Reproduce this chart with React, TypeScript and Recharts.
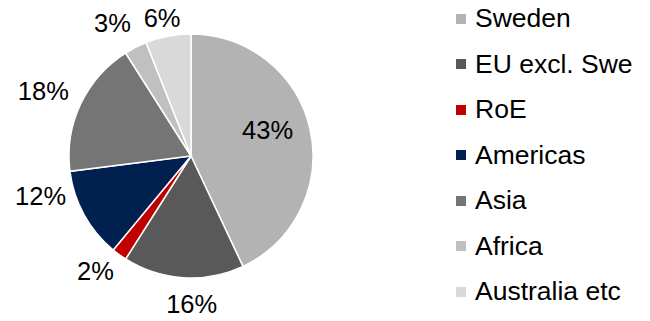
import React from "react";
import { Cell, Pie, PieChart, PieLabelRenderProps } from "recharts";

const REGIONS = ["Sweden", "EU excl. Swe", "RoE", "Americas", "Asia", "Africa", "Australia etc"];
const SHARES = [43, 16, 2, 12, 18, 3, 6];
const COLORS = ["#b3b3b3", "#595959", "#c00000", "#002050", "#757575", "#c0c0c0", "#d9d9d9"];

const data = REGIONS.map((name, i) => ({ name, value: SHARES[i] }));

const FONT = "'Liberation Sans', Arial, sans-serif";
const LABEL_SIZE = 25.5;
const LEGEND_SIZE = 26.5;
const RADIAN = Math.PI / 180;

// label placement tweaks, excel puts them a bit off the mid angle
const LABEL_TWEAK: Record<string, { r: number; dx: number; dy: number }> = {
  Sweden: { r: 0.66, dx: -2, dy: -8 },
  "EU excl. Swe": { r: 1.22, dx: 10, dy: -1 },
  RoE: { r: 1.22, dx: -8, dy: -5 },
  Americas: { r: 1.22, dx: -20, dy: -32 },
  Asia: { r: 1.22, dx: -13, dy: -2 },
  Africa: { r: 1.22, dx: -11, dy: 0 },
  "Australia etc": { r: 1.22, dx: -1, dy: 8 },
};

const renderLabel = (props: PieLabelRenderProps) => {
  const { cx, cy, midAngle, outerRadius, percent, name } = props as any;
  const t = LABEL_TWEAK[name] || { r: 1.2, dx: 0, dy: 0 };
  const r = outerRadius * t.r;
  const x = cx + r * Math.cos(-midAngle * RADIAN) + t.dx;
  const y = cy + r * Math.sin(-midAngle * RADIAN) + t.dy;
  return (
    <text
      x={x}
      y={y}
      fill="#000"
      fontSize={LABEL_SIZE}
      fontFamily={FONT}
      textAnchor="middle"
      dominantBaseline="central"
    >
      {`${Math.round(percent * 100)}%`}
    </text>
  );
};

const LegendBox = () => (
  <div
    style={{
      position: "absolute",
      left: 456,
      top: -4,
      fontFamily: FONT,
      fontSize: LEGEND_SIZE,
      color: "#000",
    }}
  >
    {REGIONS.map((name, i) => (
      <div
        key={`leg-${i}`}
        style={{ height: 45.5, display: "flex", alignItems: "center", whiteSpace: "nowrap" }}
      >
        <span
          style={{
            display: "inline-block",
            width: 10,
            height: 10,
            background: COLORS[i],
            marginRight: 9,
          }}
        />
        {name}
      </div>
    ))}
  </div>
);

const App = () => {
  return (
    <div style={{ position: "absolute", left: 0, top: 0, width: 650, height: 321, background: "#fff" }}>
      <PieChart width={650} height={321} margin={{ top: 0, right: 0, bottom: 0, left: 0 }}>
        <Pie
          data={data}
          dataKey="value"
          nameKey="name"
          cx={191}
          cy={156}
          outerRadius={122}
          startAngle={90}
          endAngle={-270}
          stroke="#fff"
          strokeWidth={1.5}
          labelLine={false}
          label={renderLabel}
          isAnimationActive={false}
        >
          {data.map((entry, index) => (
            <Cell key={`cell-${index}`} fill={COLORS[index % COLORS.length]} />
          ))}
        </Pie>
      </PieChart>
      <LegendBox />
    </div>
  );
};

export default App;
